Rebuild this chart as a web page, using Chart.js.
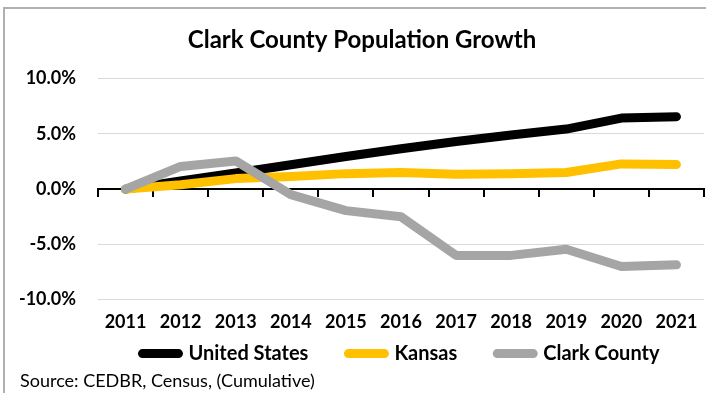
<!DOCTYPE html>
<html>
<head>
<meta charset="utf-8">
<script src="https://cdn.jsdelivr.net/npm/chart.js@4.4.1/dist/chart.umd.min.js"></script>
<style>
  html, body { margin: 0; padding: 0; background: #ffffff; }
  #wrap { position: relative; width: 706px; height: 393px; overflow: hidden; }
  #frame { position: absolute; left: 3px; top: 7px; width: 800px; height: 500px;
           border-left: 2px solid #b0b0b0; border-top: 2px solid #b0b0b0; box-sizing: border-box; }
  canvas { position: absolute; left: 0; top: 0; }
</style>
</head>
<body>
<div id="wrap">
  <div id="frame"></div>
  <canvas id="c" width="706" height="393"></canvas>
</div>
<script>
const years = ['2011','2012','2013','2014','2015','2016','2017','2018','2019','2020','2021'];
const unitedStates = [0, 0.73, 1.45, 2.2, 2.95, 3.65, 4.3, 4.9, 5.43, 6.43, 6.55];
const kansas = [0, 0.4, 0.95, 1.15, 1.4, 1.5, 1.35, 1.4, 1.5, 2.28, 2.22];
const clarkCounty = [0, 2.05, 2.55, -0.5, -1.95, -2.5, -6.0, -6.0, -5.45, -7.0, -6.85];
const seriesNames = ['United States', 'Kansas', 'Clark County'];
const seriesColors = ['#000000', '#FFC000', '#A5A5A5'];
const yMin = -10, yMax = 10, yStep = 5;
const titleText = 'Clark County Population Growth';
const sourceText = 'Source: CEDBR, Census, (Cumulative)';

const FONT = 'Lato, "Open Sans", sans-serif';
const seriesData = [unitedStates, kansas, clarkCounty];

new Chart(document.getElementById('c'), {
  type: 'line',
  data: {
    labels: years,
    datasets: seriesData.map((d, i) => ({
      label: seriesNames[i],
      data: d,
      borderColor: seriesColors[i],
      backgroundColor: seriesColors[i],
      borderWidth: 9,
      borderCapStyle: 'round',
      borderJoinStyle: 'round',
      pointRadius: 0,
      tension: 0,
      fill: false,
      order: 3 - i
    }))
  },
  options: {
    responsive: false,
    animation: false,
    devicePixelRatio: 1,
    layout: { padding: { top: 26, left: 20, right: 2, bottom: 1.4 } },
    plugins: {
      title: {
        display: true, text: titleText, color: '#000',
        font: { family: FONT, size: 24, weight: 'bold' },
        padding: { top: 0, bottom: 23.8 }
      },
      subtitle: {
        display: true, text: sourceText, color: '#000', position: 'bottom', align: 'start',
        font: { family: FONT, size: 18, weight: 'normal' },
        padding: { top: 3.2, bottom: 0 }
      },
      legend: {
        position: 'bottom', fullSize: false, maxHeight: 63.2,
        labels: {
          usePointStyle: true, pointStyle: 'line', pointStyleWidth: 36,
          color: '#000', padding: 40,
          font: { family: FONT, size: 20, weight: 'bold' },
          sort: (a, b) => a.datasetIndex - b.datasetIndex,
          generateLabels: chart => Chart.defaults.plugins.legend.labels.generateLabels(chart)
            .map(item => Object.assign(item, { lineCap: 'round', lineWidth: 9 }))
        }
      },
      tooltip: { enabled: false }
    },
    scales: {
      y: {
        min: yMin, max: yMax,
        ticks: { stepSize: yStep, padding: 22, color: '#000',
                 font: { family: FONT, size: 18, weight: 'bold' },
                 callback: v => v.toFixed(1) + '%' },
        grid: { color: '#D9D9D9', lineWidth: 1, drawTicks: false },
        border: { display: false },
        afterFit: s => { s.width = 78; }
      },
      x: {
        position: 'bottom', offset: true,
        grid: { display: false }, border: { display: false },
        ticks: { color: '#000', mirror: true, padding: -33.4, maxRotation: 0, autoSkip: false,
                 font: { family: FONT, size: 18, weight: 'bold' } },
        afterFit: s => { s.height = 4; }
      },
      x2: {
        type: 'category', position: { y: 0 }, offset: true,
        grid: { display: true, drawOnChartArea: false, drawTicks: true, tickLength: 7,
                offset: true, color: '#000', lineWidth: 2, tickColor: '#000', tickWidth: 2 },
        border: { display: true, color: '#000', width: 2 },
        ticks: { display: false },
        afterFit: s => { s.height = 0; }
      }
    }
  }
});
</script>
</body>
</html>
